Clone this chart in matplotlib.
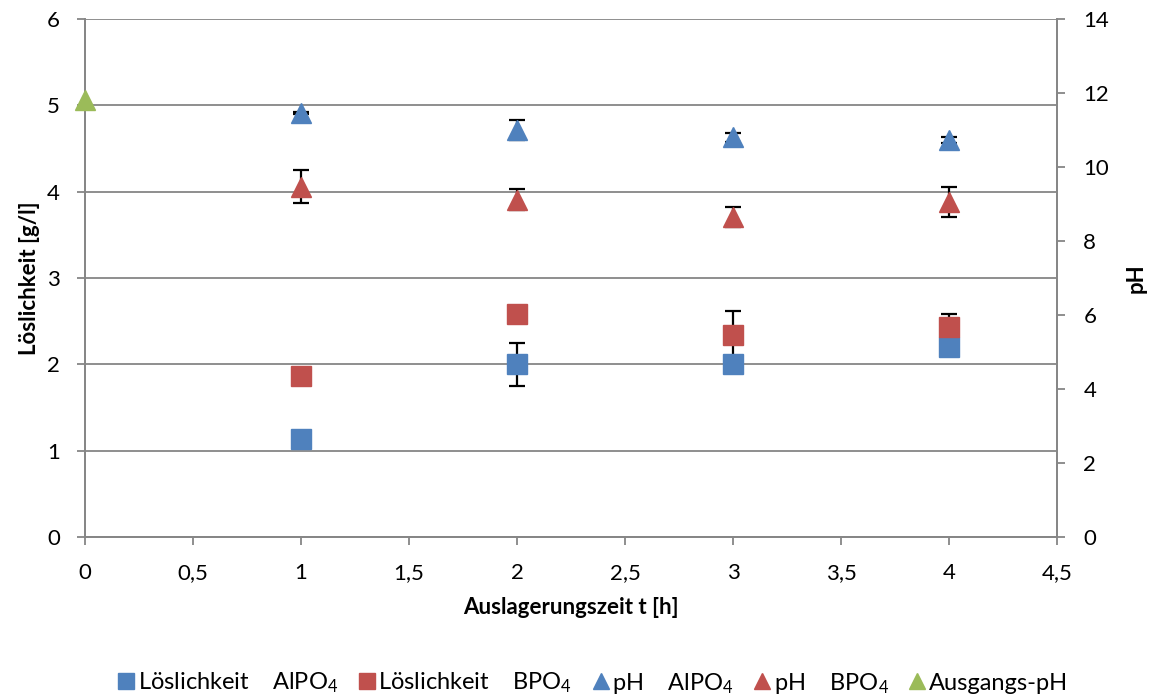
import matplotlib
matplotlib.use("Agg")
import matplotlib.pyplot as plt
from matplotlib.lines import Line2D
from matplotlib.ticker import FuncFormatter

plt.rcParams['font.family'] = ['Lato', 'DejaVu Sans']

# Solubility data [g/l]
t = [1, 2, 3, 4]
sol_alpo4 = [1.13, 2.00, 2.00, 2.20]
sol_alpo4_err = [0.0, 0.25, 0.0, 0.0]
sol_bpo4 = [1.87, 2.58, 2.34, 2.43]
sol_bpo4_err = [0.0, 0.0, 0.28, 0.15]

# pH data
ph_alpo4 = [11.46, 11.00, 10.80, 10.73]
ph_alpo4_err = [0.02, 0.26, 0.12, 0.07]
ph_bpo4 = [9.47, 9.12, 8.65, 9.06]
ph_bpo4_err = [0.45, 0.28, 0.28, 0.41]
t0 = [0]
ph_start = [11.81]

labels = ['Löslichkeit    Al$\\mathregular{PO_4}$',
          'Löslichkeit    B$\\mathregular{PO_4}$',
          'pH    Al$\\mathregular{PO_4}$',
          'pH    B$\\mathregular{PO_4}$',
          'Ausgangs-pH']

blue = '#4f81bd'
red = '#c0504d'
green = '#9bbb59'
grey = '#868686'

fig = plt.figure(figsize=(11.53, 7.00), dpi=100)
ax = fig.add_axes([0.0737, 0.2329, 0.8430, 0.7400])
ax2 = ax.twinx()

ax.set_xlim(0, 4.5)
ax.set_ylim(0, 6)
ax2.set_ylim(0, 14)

ax.yaxis.grid(True, color=grey, linewidth=1.3)
ax.set_axisbelow(True)

ekw = dict(ecolor='black', elinewidth=1.6, capsize=6, capthick=1.6, linestyle='none')
ax.errorbar(t, sol_alpo4, yerr=sol_alpo4_err, marker='s', ms=14, color=blue, mec=blue,
            zorder=3, **ekw)
ax.errorbar(t, sol_bpo4, yerr=sol_bpo4_err, marker='s', ms=14, color=red, mec=red,
            zorder=3, **ekw)
ax2.errorbar(t, ph_alpo4, yerr=ph_alpo4_err, marker='^', ms=14, color=blue, mec=blue,
             zorder=3, **ekw)
ax2.errorbar(t, ph_bpo4, yerr=ph_bpo4_err, marker='^', ms=14, color=red, mec=red,
             zorder=3, **ekw)
ax2.plot(t0, ph_start, marker='^', ms=14, color=green, linestyle='none',
         clip_on=False, zorder=4)

ax.set_xticks([0, 0.5, 1, 1.5, 2, 2.5, 3, 3.5, 4, 4.5])
ax.xaxis.set_major_formatter(FuncFormatter(lambda v, p: ('%g' % v).replace('.', ',')))
ax.set_yticks(range(0, 7))
ax2.set_yticks(range(0, 15, 2))

for a in (ax, ax2):
    for s in a.spines.values():
        s.set_color(grey)
        s.set_linewidth(1.3)
    a.spines['top'].set_visible(False)
    a.tick_params(colors=grey, labelcolor='black', labelsize=16, length=6, width=1.3,
                  direction='out')
ax.tick_params(axis='x', pad=13)
ax.tick_params(axis='y', pad=12)
ax2.tick_params(axis='y', pad=13)

ax.set_xlabel('Auslagerungszeit t [h]', fontsize=16, fontweight='bold', labelpad=10)
ax.set_ylabel('Löslichkeit [g/l]', fontsize=16, fontweight='bold', labelpad=5)
ax2.set_ylabel('pH', fontsize=16, fontweight='bold', labelpad=12)

handles = [
    Line2D([], [], marker='s', ms=12, color=blue, linestyle='none'),
    Line2D([], [], marker='s', ms=12, color=red, linestyle='none'),
    Line2D([], [], marker='^', ms=12, color=blue, linestyle='none'),
    Line2D([], [], marker='^', ms=12, color=red, linestyle='none'),
    Line2D([], [], marker='^', ms=12, color=green, linestyle='none'),
]
fig.legend(handles, labels, loc='center', bbox_to_anchor=(0.515, 0.024), ncol=5,
           frameon=False, fontsize=17, handlelength=0.6, handletextpad=0.2,
           columnspacing=0.9)

fig.savefig('out.png', dpi=100)
